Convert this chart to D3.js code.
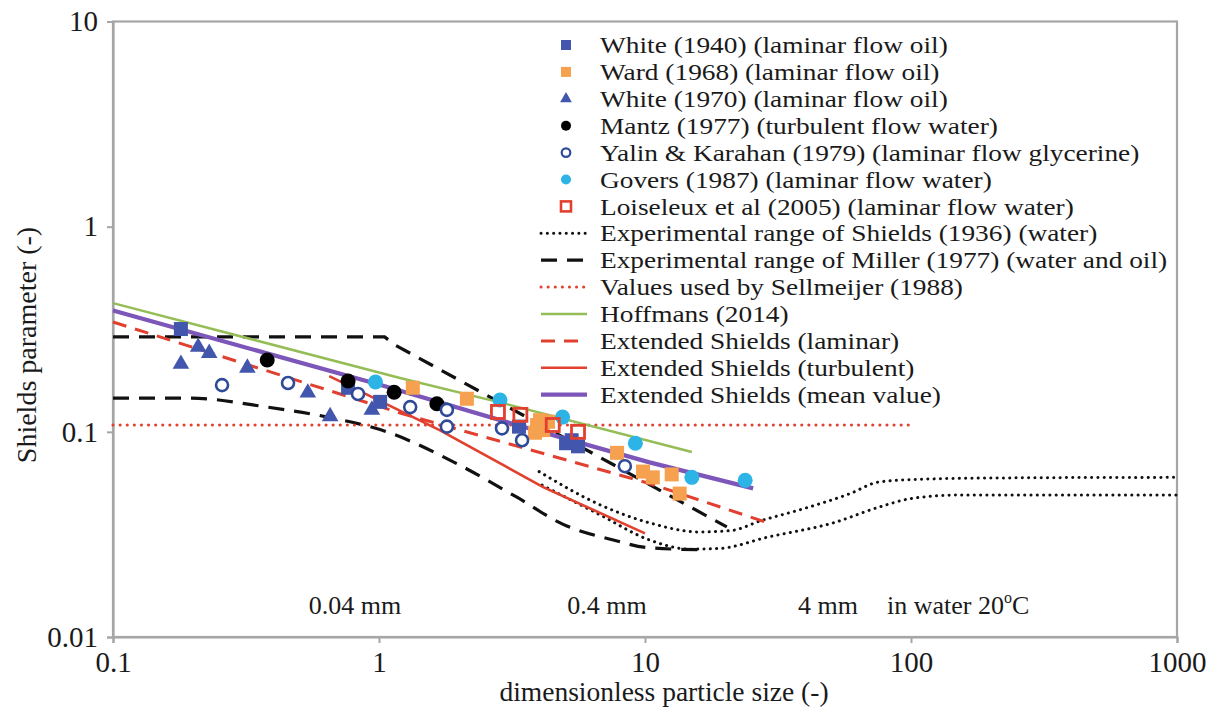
<!DOCTYPE html>
<html>
<head>
<meta charset="utf-8">
<script src="https://cdn.jsdelivr.net/npm/d3@7"></script>
<style>
  body { margin: 0; background: #fff; }
  svg text { font-family: "Liberation Serif", "Times New Roman", serif; fill: #1a1a1a; }
</style>
</head>
<body>
<svg id="shields" width="1213" height="713"></svg>
<script>
//// data  ([dimensionless particle size, Shields parameter])
var white1940 = [[0.18,0.317],[0.765,0.164],[1.01,0.14],[3.36,0.106],[5.05,0.088],[5.6,0.085],[5.3,0.091]];
var ward1968 = [[1.34,0.164],[2.14,0.145],[3.93,0.108],[4.14,0.102],[3.86,0.099],[4.32,0.112],[4.03,0.114],
                [7.85,0.079],[9.83,0.064],[10.7,0.06],[12.6,0.062],[13.5,0.05]];
var white1970 = [[0.18,0.214],[0.209,0.259],[0.23,0.242],[0.32,0.205],[0.54,0.155],[0.655,0.119],[0.94,0.128]];
var mantz1977 = [[0.38,0.224],[0.765,0.177],[1.14,0.156],[1.65,0.137]];
var yalin1979 = [[0.257,0.169],[0.455,0.173],[0.834,0.153],[1.31,0.132],[1.8,0.128],[1.8,0.106],
                 [2.9,0.104],[3.45,0.091],[8.4,0.068]];
var govers1987 = [[0.97,0.175],[2.85,0.143],[4.9,0.118],[9.2,0.088],[15,0.06],[23.8,0.058]];
var loiseleux2005 = [[2.8,0.125],[3.4,0.121],[4.5,0.108],[5.6,0.1]];

var shieldsUpper = [[4.0,0.064],[6.8,0.044],[10.4,0.036],[16,0.0325],[21,0.033],[27.5,0.037],[38,0.0416],
                    [59,0.05],[76,0.057],[108,0.0587],[216,0.0596],[1000,0.06]];
var shieldsLower = [[4.1,0.055],[6.8,0.0393],[10.4,0.0297],[14.8,0.0268],[19,0.027],[29,0.0307],[51,0.036],
                    [76,0.043],[102,0.0475],[153,0.0492],[1000,0.0492]];
var millerUpper = [[0.1,0.29],[1.05,0.29],[1.15,0.265],[20.3,0.0344]];
var millerLower = [[0.1,0.146],[0.195,0.146],[0.38,0.132],[0.64,0.118],[1.07,0.1],[1.96,0.07],[3.3,0.048],
                   [4.9,0.0355],[7.6,0.0297],[10.4,0.0272],[17,0.0266]];
var sellmeijer = [[0.1,0.108],[100,0.108]];
var hoffmans = [[0.1,0.424],[1.2,0.183],[2.92,0.138],[15,0.0797]];
var extLaminar = [[0.1,0.343],[1.2,0.1235],[10.4,0.056],[30,0.0355]];
var extTurbulent = [[0.65,0.187],[1.69,0.102],[4.14,0.0538],[10,0.032]];
var extMean = [[0.1,0.39],[1,0.17],[3.3,0.108],[10.4,0.071],[25.5,0.053]];

var xTicks = [0.1, 1, 10, 100, 1000];
var yTicks = [0.01, 0.1, 1, 10];
var legendLabels = [
  "White (1940) (laminar flow oil)",
  "Ward (1968) (laminar flow oil)",
  "White (1970) (laminar flow oil)",
  "Mantz (1977) (turbulent flow water)",
  "Yalin & Karahan (1979) (laminar flow glycerine)",
  "Govers (1987) (laminar flow water)",
  "Loiseleux et al (2005) (laminar flow water)",
  "Experimental range of Shields (1936) (water)",
  "Experimental range of Miller (1977) (water and oil)",
  "Values used by Sellmeijer (1988)",
  "Hoffmans (2014)",
  "Extended Shields (laminar)",
  "Extended Shields (turbulent)",
  "Extended Shields (mean value)"
];
var sizeLabels = ["0.04 mm", "0.4 mm", "4 mm"];

//// define parameters
var svg = d3.select("svg#shields");
var plotL = 113, plotR = 1177, plotT = 21.5, plotB = 637;

var x = d3.scaleLog().domain([0.1, 1000]).range([plotL, plotR]);
var y = d3.scaleLog().domain([0.01, 10]).range([plotB, plotT]);

var blue = "#4256ad", orange = "#f5a14f", cyan = "#2cb4e6", red = "#e2402f",
    green = "#95bd56", purple = "#7c56b8", navy = "#2f4a98";

// plot frame
svg.append("rect")
   .attr("x", plotL).attr("y", plotT)
   .attr("width", plotR - plotL).attr("height", plotB - plotT)
   .attr("fill", "none").attr("stroke", "#a6a6a6").attr("stroke-width", 2.2);

// axes
var fmt = function(d) { return String(d); };
var yAxis = svg.append("g")
   .attr("transform", "translate(" + plotL + ",0)")
   .call(d3.axisLeft(y).tickValues(yTicks).tickFormat(fmt).tickSize(6).tickPadding(9));
var xAxis = svg.append("g")
   .attr("transform", "translate(0," + plotB + ")")
   .call(d3.axisBottom(x).tickValues(xTicks).tickFormat(fmt).tickSize(6).tickPadding(8));
[xAxis, yAxis].forEach(function(a) {
  a.select(".domain").attr("stroke", "#a6a6a6").attr("stroke-width", 2.2);
  a.selectAll(".tick line").attr("stroke", "#a6a6a6").attr("stroke-width", 2);
  a.selectAll(".tick text").attr("font-family", "Liberation Serif").attr("font-size", 29).attr("fill", "#1a1a1a");
});

svg.append("text")
   .attr("x", 664).attr("y", 701)
   .attr("text-anchor", "middle").attr("font-size", 27.5)
   .text("dimensionless particle size (-)");
svg.append("text")
   .attr("transform", "translate(36,345) rotate(-90)")
   .attr("text-anchor", "middle").attr("font-size", 28)
   .text("Shields parameter (-)");

// grain size annotations
var sizeX = [355, 607, 828];
svg.selectAll("text.size")
   .data(sizeLabels)
   .enter().append("text")
   .attr("class", "size")
   .attr("x", function(d, i) { return sizeX[i]; })
   .attr("y", 614)
   .attr("text-anchor", "middle").attr("font-size", 26)
   .text(function(d) { return d; });
var water = svg.append("text").attr("x", 887).attr("y", 614).attr("font-size", 26);
water.append("tspan").text("in water 20");
water.append("tspan").attr("dy", -11).attr("font-size", 16).text("o");
water.append("tspan").attr("dy", 11).text("C");

// lines
var line = d3.line()
  .x(function(d) { return x(d[0]); })
  .y(function(d) { return y(d[1]); });
var curved = d3.line()
  .curve(d3.curveMonotoneX)
  .x(function(d) { return x(d[0]); })
  .y(function(d) { return y(d[1]); });

var lineSeries = [
  {data: shieldsUpper, gen: curved, color: "#111", width: 3, dash: "0.1 6.2", cap: "round"},
  {data: shieldsLower, gen: curved, color: "#111", width: 3, dash: "0.1 6.2", cap: "round"},
  {data: millerUpper, gen: line, color: "#111", width: 3.2, dash: "16 10", cap: "butt"},
  {data: millerLower, gen: curved, color: "#111", width: 3.2, dash: "16 10", cap: "butt"},
  {data: sellmeijer, gen: line, color: red, width: 3, dash: "0.1 7", cap: "round"},
  {data: hoffmans, gen: line, color: green, width: 2.5, dash: null, cap: "butt"},
  {data: extLaminar, gen: line, color: red, width: 3, dash: "14 9", cap: "butt"},
  {data: extTurbulent, gen: line, color: red, width: 2.6, dash: null, cap: "butt"},
  {data: extMean, gen: line, color: purple, width: 4.2, dash: null, cap: "butt"}
];

svg.selectAll("path.series")
   .data(lineSeries)
   .enter().append("path")
   .attr("class", "series")
   .attr("d", function(d) { return d.gen(d.data); })
   .attr("fill", "none")
   .attr("stroke", function(d) { return d.color; })
   .attr("stroke-width", function(d) { return d.width; })
   .attr("stroke-dasharray", function(d) { return d.dash; })
   .attr("stroke-linecap", function(d) { return d.cap; });

// markers
function squares(data, size, fill, stroke) {
  svg.append("g").selectAll("rect")
     .data(data)
     .enter().append("rect")
     .attr("x", function(d) { return x(d[0]) - size / 2; })
     .attr("y", function(d) { return y(d[1]) - size / 2; })
     .attr("width", size).attr("height", size)
     .attr("fill", fill)
     .attr("stroke", stroke || "none")
     .attr("stroke-width", stroke ? 2.8 : 0);
}
function circles(data, r, fill, stroke) {
  svg.append("g").selectAll("circle")
     .data(data)
     .enter().append("circle")
     .attr("cx", function(d) { return x(d[0]); })
     .attr("cy", function(d) { return y(d[1]); })
     .attr("r", r)
     .attr("fill", fill)
     .attr("stroke", stroke || "none")
     .attr("stroke-width", stroke ? 2.6 : 0);
}
function triangles(data, area, fill) {
  svg.append("g").selectAll("path")
     .data(data)
     .enter().append("path")
     .attr("d", d3.symbol().type(d3.symbolTriangle).size(area))
     .attr("transform", function(d) { return "translate(" + x(d[0]) + "," + y(d[1]) + ")"; })
     .attr("fill", fill);
}

squares(white1940, 14, blue);
squares(ward1968, 14, orange);
triangles(white1970, 120, blue);
circles(mantz1977, 7.5, "#000");
circles(yalin1979, 6, "#fff", navy);
circles(govers1987, 7.5, cyan);
squares(loiseleux2005, 13, "none", red);

// legend
var lgX = 566, lgText = 600, lgY = 45, lgStep = 26.9;
function rowY(i) { return lgY + i * lgStep; }
var lg = svg.append("g");
lg.selectAll("text")
  .data(legendLabels)
  .enter().append("text")
  .attr("transform", function(d, i) { return "translate(" + lgText + "," + rowY(i) + ") scale(1.14,1)"; })
  .attr("dy", "0.34em")
  .attr("font-size", 24)
  .text(function(d) { return d; });

lg.append("rect").attr("x", lgX - 5).attr("y", rowY(0) - 5).attr("width", 10).attr("height", 10).attr("fill", blue);
lg.append("rect").attr("x", lgX - 5).attr("y", rowY(1) - 5).attr("width", 10).attr("height", 10).attr("fill", orange);
lg.append("path").attr("d", d3.symbol().type(d3.symbolTriangle).size(60))
  .attr("transform", "translate(" + lgX + "," + rowY(2) + ")").attr("fill", blue);
lg.append("circle").attr("cx", lgX).attr("cy", rowY(3)).attr("r", 5).attr("fill", "#000");
lg.append("circle").attr("cx", lgX).attr("cy", rowY(4)).attr("r", 4.3).attr("fill", "#fff")
  .attr("stroke", navy).attr("stroke-width", 2.2);
lg.append("circle").attr("cx", lgX).attr("cy", rowY(5)).attr("r", 5).attr("fill", cyan);
lg.append("rect").attr("x", lgX - 5).attr("y", rowY(6) - 5).attr("width", 10).attr("height", 10)
  .attr("fill", "none").attr("stroke", red).attr("stroke-width", 2.6);

lg.selectAll("line")
  .data(lineSeries.filter(function(d, i) { return i !== 1 && i !== 3; }))
  .enter().append("line")
  .attr("x1", 541).attr("x2", 587)
  .attr("y1", function(d, i) { return rowY(7 + i); })
  .attr("y2", function(d, i) { return rowY(7 + i); })
  .attr("stroke", function(d) { return d.color; })
  .attr("stroke-width", function(d) { return d.width; })
  .attr("stroke-dasharray", function(d) { return d.dash; })
  .attr("stroke-linecap", function(d) { return d.cap; });
</script>
</body>
</html>
